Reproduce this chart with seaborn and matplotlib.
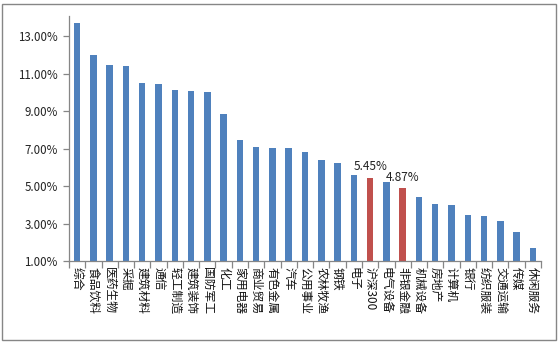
import matplotlib
matplotlib.use("Agg")
import matplotlib.pyplot as plt
import matplotlib.ticker as mticker
import seaborn as sns
import pandas as pd

categories = ["综合", "食品饮料", "医药生物", "采掘", "建筑材料", "通信", "轻工制造", "建筑装饰",
              "国防军工", "化工", "家用电器", "商业贸易", "有色金属", "汽车", "公用事业", "农林牧渔",
              "钢铁", "电子", "沪深300", "电气设备", "非银金融", "机械设备", "房地产", "计算机",
              "银行", "纺织服装", "交通运输", "传媒", "休闲服务"]
values = [13.69, 11.99, 11.45, 11.40, 10.49, 10.44, 10.12, 10.07,
          10.01, 8.84, 7.45, 7.10, 7.03, 7.02, 6.81, 6.39,
          6.23, 5.59, 5.45, 5.21, 4.87, 4.41, 4.04, 3.99,
          3.45, 3.40, 3.13, 2.55, 1.69]
highlight = ["沪深300", "非银金融"]
yticks = [1, 3, 5, 7, 9, 11, 13]

blue = "#4F81BD"
red = "#C0504D"
axis_gray = "#868686"

df = pd.DataFrame({"cat": categories, "val": values})
palette = {c: (red if c in highlight else blue) for c in categories}

sns.set_theme(style="white")
plt.rcParams["font.family"] = ["Noto Sans CJK SC", "DejaVu Sans"]

fig = plt.figure(figsize=(5.59, 3.45), dpi=100)
ax = fig.add_axes([69/559, 1 - 261/345, (541-69)/559, (261-16)/345])

sns.barplot(data=df, x="cat", y="val", hue="cat", palette=palette, legend=False,
            width=0.4, saturation=1, linewidth=0, ax=ax)

ax.set_ylim(1, 14.07)
ax.set_xlim(-0.5, len(categories) - 0.5)
ax.set_yticks(yticks)
ax.yaxis.set_major_formatter(mticker.FuncFormatter(lambda v, p: f"{v:.2f}%"))
ax.set_xlabel("")
ax.set_ylabel("")

for s in ["top", "right"]:
    ax.spines[s].set_visible(False)
for s in ["left", "bottom"]:
    ax.spines[s].set_color(axis_gray)
    ax.spines[s].set_linewidth(0.9)

ax.tick_params(axis="y", which="major", direction="out", length=4, color=axis_gray,
               width=0.9, labelsize=8.3, labelcolor="#222222", pad=4, left=True)
ax.set_xticks(range(len(categories)))
ax.set_xticklabels(categories, rotation=-90, fontsize=8.5, va="top", ha="center")
ax.tick_params(axis="x", which="major", length=0, pad=4, labelcolor="#111111")
ax.set_xticks([i - 0.5 for i in range(len(categories) + 1)], minor=True)
ax.tick_params(axis="x", which="minor", direction="out", length=5, color=axis_gray,
               width=0.9, bottom=True)

for c in highlight:
    i = categories.index(c)
    v = values[i]
    ax.text(i, v + 0.25, f"{v:.2f}%", ha="center", va="bottom", fontsize=8.5, color="#222222")

fig.patches.append(plt.Rectangle((2/559, 1 - 340/345), 554/559, 336/345, transform=fig.transFigure,
                                 fill=False, edgecolor=axis_gray, linewidth=1.0))

fig.savefig("out.png", dpi=100)
